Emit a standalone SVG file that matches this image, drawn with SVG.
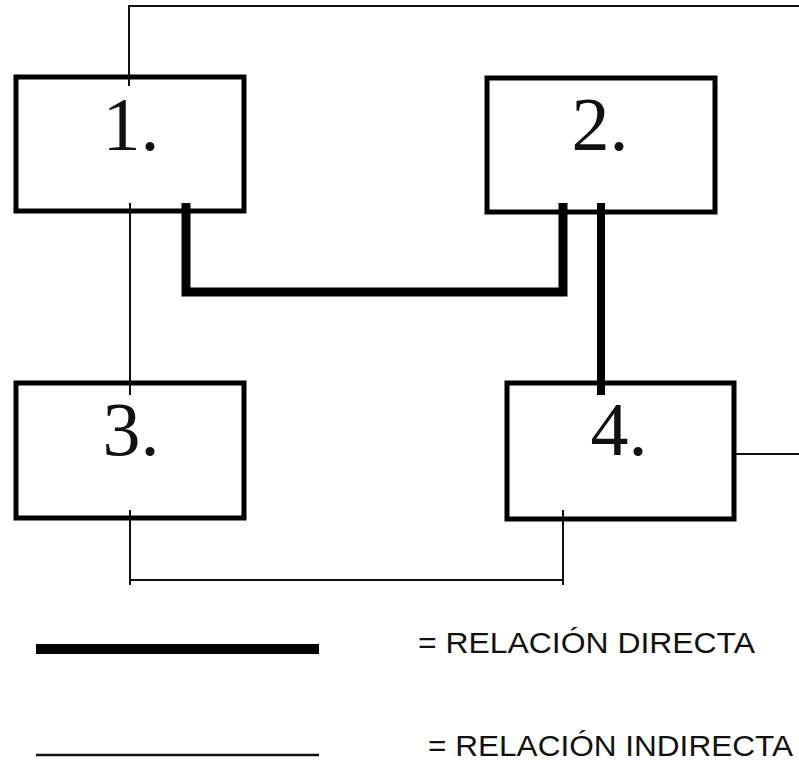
<svg xmlns="http://www.w3.org/2000/svg" width="799" height="768" viewBox="0 0 799 768">
  <style>
    .box { fill: #ffffff; stroke: #000000; stroke-width: 5; }
    .num { font-family: "Liberation Serif", "Times New Roman", serif; font-size: 76px; fill: #111111; text-anchor: middle; }
    .thin { fill: none; stroke: #111111; stroke-width: 2; }
    .thick { fill: none; stroke: #000000; stroke-width: 9; stroke-linejoin: miter; }
    .legend { font-family: "Liberation Sans", Arial, sans-serif; font-size: 30px; fill: #111111; }
  </style>
  <rect width="799" height="768" fill="#ffffff"/>

  <!-- connectors -->
  <g id="connectors">
    <!-- indirect relations -->
    <path class="thin" d="M129,86 V6 H799"/>
    <path class="thin" d="M130,203 V395"/>
    <path class="thin" d="M130,510 V585 M130,580 H563 M563,510 V585"/>
    <path class="thin" d="M736,454 H799"/>
    <!-- direct relations -->
    <path class="thick" d="M186,203 V292 H563 V203"/>
    <path class="thick" d="M601,203 V395" style="stroke-width:8"/>
  </g>

  <g id="node1">
    <rect class="box" x="16" y="77" width="228" height="134"/>
    <text class="num" x="131" y="150">1.</text>
  </g>
  <g id="node2">
    <rect class="box" x="487" y="78" width="228" height="134"/>
    <text class="num" x="600" y="150">2.</text>
  </g>
  <g id="node3">
    <rect class="box" x="16" y="383" width="228" height="135"/>
    <text class="num" x="131" y="455">3.</text>
  </g>
  <g id="node4">
    <rect class="box" x="507" y="383" width="227" height="136"/>
    <text class="num" x="619" y="455">4.</text>
  </g>

  <!-- connectors re-drawn over box edges where they overlap -->
  <g id="connector-overlays">
    <path class="thin" d="M129,74 V86"/>
    <path class="thin" d="M130,203 V214 M130,380 V395"/>
    <path class="thin" d="M130,510 V521 M563,510 V521"/>
    <path class="thick" d="M186,203 V214 M563,203 V215"/>
    <path class="thick" d="M601,203 V215 M601,380 V395" style="stroke-width:8"/>
  </g>

  <g id="legend">
    <line x1="36" y1="649" x2="319" y2="649" stroke="#000000" stroke-width="10"/>
    <text class="legend" x="418" y="653" textLength="337" lengthAdjust="spacingAndGlyphs">= RELACIÓN DIRECTA</text>
    <line x1="36" y1="755" x2="319" y2="755" stroke="#111111" stroke-width="2.5"/>
    <text class="legend" x="428" y="756" textLength="365" lengthAdjust="spacingAndGlyphs">= RELACIÓN INDIRECTA</text>
  </g>
</svg>
